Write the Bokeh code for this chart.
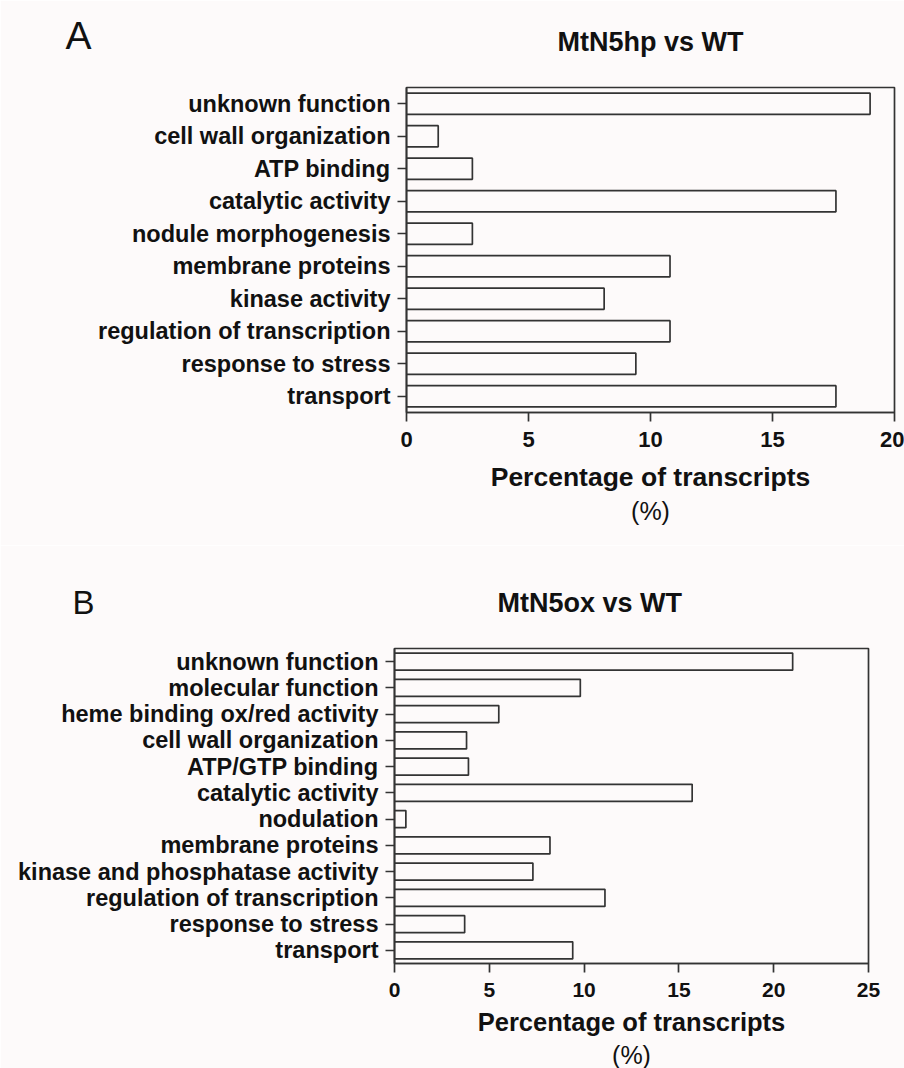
from bokeh.plotting import figure
from bokeh.models import FactorRange, Range1d, FixedTicker, Title, ColumnDataSource, LinearAxis
from bokeh.layouts import column
from bokeh.embed import file_html
from bokeh.resources import INLINE

# ---- data ----
cats_a = ["unknown function", "cell wall organization", "ATP binding",
          "catalytic activity", "nodule morphogenesis", "membrane proteins",
          "kinase activity", "regulation of transcription",
          "response to stress", "transport"]
vals_a = [19.0, 1.3, 2.7, 17.6, 2.7, 10.8, 8.1, 10.8, 9.4, 17.6]
ticks_a = [0, 5, 10, 15, 20]
title_a = "MtN5hp vs WT"

cats_b = ["unknown function", "molecular function", "heme binding ox/red activity",
          "cell wall organization", "ATP/GTP binding", "catalytic activity",
          "nodulation", "membrane proteins", "kinase and phosphatase activity",
          "regulation of transcription", "response to stress", "transport"]
vals_b = [21.0, 9.8, 5.5, 3.8, 3.9, 15.7, 0.6, 8.2, 7.3, 11.1, 3.7, 9.4]
ticks_b = [0, 5, 10, 15, 20, 25]
title_b = "MtN5ox vs WT"

xlabel = "Percentage of transcripts"
unit_label = "(%)"

BG = "#fdfafa"
LINE = "#333333"
TXT = "#111111"
FONT = "Liberation Sans"


def panel(cats, vals, ticks, xmax, width, height, mb_left, mb_right, mb_top, mb_bottom,
          tick_fs, label_fs, xlab_fs, xlab_standoff):
    src = ColumnDataSource(dict(cat=cats, val=vals))
    p = figure(width=width, height=height, output_backend="svg", toolbar_location=None,
               y_range=FactorRange(factors=list(reversed(cats)), range_padding=0),
               x_range=Range1d(0, xmax),
               min_border_left=mb_left, min_border_right=mb_right,
               min_border_top=mb_top, min_border_bottom=mb_bottom)
    p.frame_align = False
    p.hbar(y="cat", right="val", left=0, height=0.65, source=src,
           fill_color=BG, line_color=LINE, line_width=1.7)
    p.background_fill_color = BG
    p.border_fill_color = BG
    p.outline_line_color = LINE
    p.outline_line_width = 1.7
    p.xgrid.visible = False
    p.ygrid.visible = False
    p.xaxis.ticker = FixedTicker(ticks=ticks)
    p.xaxis.minor_tick_line_color = None
    for ax in (p.xaxis[0], p.yaxis[0]):
        ax.axis_line_color = LINE
        ax.axis_line_width = 1.7
        ax.major_tick_line_color = LINE
        ax.major_tick_line_width = 1.7
        ax.major_tick_out = 9
        ax.major_tick_in = 0
        ax.major_label_text_font = FONT
        ax.major_label_text_font_style = "bold"
        ax.major_label_text_color = TXT
    p.xaxis.major_label_text_font_size = tick_fs
    p.xaxis.major_label_standoff = 10
    p.yaxis.major_label_text_font_size = label_fs
    p.yaxis.major_label_standoff = 7
    p.xaxis.axis_label = xlabel
    p.xaxis.axis_label_text_font = FONT
    p.xaxis.axis_label_text_font_style = "bold"
    p.xaxis.axis_label_text_font_size = xlab_fs
    p.xaxis.axis_label_text_color = TXT
    p.xaxis.axis_label_standoff = xlab_standoff
    return p


def add_unit(p, unit_fs):
    p.add_layout(Title(text=unit_label, align="center", standoff=0,
                       text_font=FONT, text_font_size=unit_fs, text_font_style="normal",
                       text_color=TXT), "below")


def letter_title(letter, fs, off, standoff):
    return Title(text=letter, align="left", offset=off, standoff=standoff,
                 text_font=FONT, text_font_size=fs, text_font_style="normal",
                 text_color=TXT)


# Panel A: frame x 406..894, y 87..412
pA = panel(cats_a, vals_a, ticks_a, 20, 904, 545, 406, 10, 87, 133,
           "22px", "23.5px", "26.5px", 12)
topA = LinearAxis(ticker=FixedTicker(ticks=[]),
                  axis_line_color=None, major_tick_line_color=None,
                  minor_tick_line_color=None, major_tick_out=0, minor_tick_out=0,
                  axis_label=title_a, axis_label_standoff=31,
                  axis_label_text_font=FONT, axis_label_text_font_size="27px",
                  axis_label_text_font_style="bold", axis_label_text_color=TXT)
pA.add_layout(topA, "above")
pA.add_layout(letter_title("A", "39px", -341, -66), "above")
add_unit(pA, "25px")

# Panel B: frame x 394..868, y 648..964 (figure starts at 545)
pB = panel(cats_b, vals_b, ticks_b, 25, 904, 523, 394, 36, 103, 104,
           "21px", "23.5px", "25.5px", 8)
pB.add_layout(Title(text=title_b, align="left", offset=103, standoff=60.6,
                    text_font=FONT, text_font_size="27px", text_font_style="bold",
                    text_color=TXT), "above")
pB.add_layout(letter_title("B", "33px", -322, -131), "above")
add_unit(pB, "25px")

layout = column(pA, pB)
open("out.html", "w").write(file_html(layout, INLINE))
